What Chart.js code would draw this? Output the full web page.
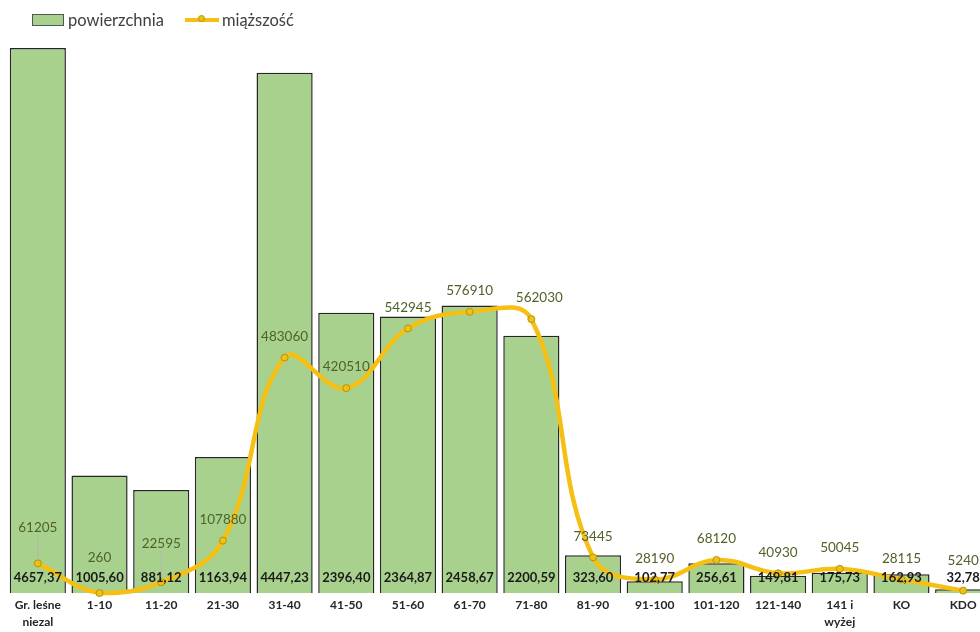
<!DOCTYPE html>
<html>
<head>
<meta charset="utf-8">
<script src="https://cdn.jsdelivr.net/npm/chart.js@4/dist/chart.umd.min.js"></script>
<style>
  html, body { margin: 0; padding: 0; background: #fff; }
  #wrap { position: relative; width: 980px; height: 632px; overflow: hidden; }
  #box { position: absolute; left: 0; top: 0; width: 1000px; height: 634px; }
  #legend { position: absolute; left: 32px; top: 10px; font-family: Lato, sans-serif; font-size: 16.5px; color: #404040; display: flex; align-items: center; }
  #legend .sw { display: inline-block; width: 30px; height: 10px; background: #a9d18e; border: 1px solid #555; margin-right: 4px; }
  #legend .ln { display: inline-block; position: relative; width: 34px; height: 4px; background: #f5c013; margin: 0 3px 0 21px; }
  #legend .ln i { position: absolute; left: 13px; top: -3px; width: 7px; height: 7px; border-radius: 50%; background: #e9c21c; border: 1px solid #bf9000; box-sizing: border-box; }
</style>
</head>
<body>
<div id="wrap">
  <div id="box"><canvas id="myChart"></canvas></div>
  <div id="legend"><span class="sw"></span>powierzchnia<span class="ln"><i></i></span>miąższość</div>
</div>
<script>
const categories = [['Gr. leśne', 'niezal'], '1-10', '11-20', '21-30', '31-40', '41-50', '51-60', '61-70', '71-80', '81-90', '91-100', '101-120', '121-140', ['141 i', 'wyżej'], 'KO', 'KDO'];
const powierzchnia = [4657.37, 1005.60, 881.12, 1163.94, 4447.23, 2396.40, 2364.87, 2458.67, 2200.59, 323.60, 102.77, 256.61, 149.81, 175.73, 162.93, 32.78];
const miazszosc = [61205, 260, 22595, 107880, 483060, 420510, 542945, 576910, 562030, 73445, 28190, 68120, 40930, 50045, 28115, 5240];

// label distance above the line points (a few were moved by hand in the original)
const lineLabelShift = { 0: 36, 1: 35, 2: 39, 15: 30 };

const labelsPlugin = {
    id: 'valueLabels',
    afterDatasetsDraw(chart) {
        const ctx = chart.ctx;
        const bottom = chart.chartArea.bottom;
        ctx.save();
        ctx.textAlign = 'center';
        ctx.textBaseline = 'middle';

        // bar values, near the base of every bar
        ctx.font = 'bold 13px Lato, sans-serif';
        ctx.fillStyle = '#1a1a1a';
        chart.getDatasetMeta(0).data.forEach((bar, i) => {
            ctx.fillText(powierzchnia[i].toFixed(2).replace('.', ','), bar.x, bottom - 15);
        });

        // line values, above the points
        ctx.font = '13.5px Lato, sans-serif';
        ctx.fillStyle = '#4f6228';
        chart.getDatasetMeta(1).data.forEach((pt, i) => {
            const d = lineLabelShift[i] || 21;
            if (d > 30 && i !== 1) {
                ctx.strokeStyle = '#b5b5b5';
                ctx.lineWidth = 1;
                ctx.beginPath();
                ctx.moveTo(pt.x, pt.y - 5);
                ctx.lineTo(pt.x, pt.y - d + 8);
                ctx.stroke();
            }
            ctx.fillText(String(miazszosc[i]), pt.x + (i === 8 ? 8 : 0), pt.y - d);
        });
        ctx.restore();
    }
};

const ctx = document.getElementById('myChart').getContext('2d');
new Chart(ctx, {
    data: {
        labels: categories,
        datasets: [
            {
                type: 'bar',
                label: 'powierzchnia',
                data: powierzchnia,
                yAxisID: 'y',
                backgroundColor: '#a9d18e',
                borderColor: '#262626',
                borderWidth: 1.5,
                barPercentage: 0.91,
                categoryPercentage: 1,
                order: 2
            },
            {
                type: 'line',
                label: 'miąższość',
                data: miazszosc,
                yAxisID: 'y1',
                borderColor: '#f5c013',
                borderWidth: 4.5,
                tension: 0.4,
                pointRadius: 3.5,
                pointBackgroundColor: '#e9c21c',
                pointBorderColor: '#bf9000',
                pointBorderWidth: 1,
                clip: false,
                order: 1
            }
        ]
    },
    options: {
        responsive: true,
        maintainAspectRatio: false,
        animation: false,
        layout: { padding: { left: 7, right: 6, top: 8, bottom: 0 } },
        plugins: {
            legend: { display: false },
            tooltip: { enabled: false }
        },
        scales: {
            x: {
                grid: { display: false, drawTicks: false },
                border: { display: false },
                ticks: {
                    color: '#262626',
                    font: { family: 'Lato, sans-serif', size: 12, weight: 'bold', lineHeight: 1.45 },
                    padding: 3,
                    maxRotation: 0,
                    autoSkip: false
                }
            },
            y: { display: false, min: 0, max: 5000 },
            y1: { display: false, min: 0, max: 1200000, position: 'right' }
        }
    },
    plugins: [labelsPlugin]
});
</script>
</body>
</html>
